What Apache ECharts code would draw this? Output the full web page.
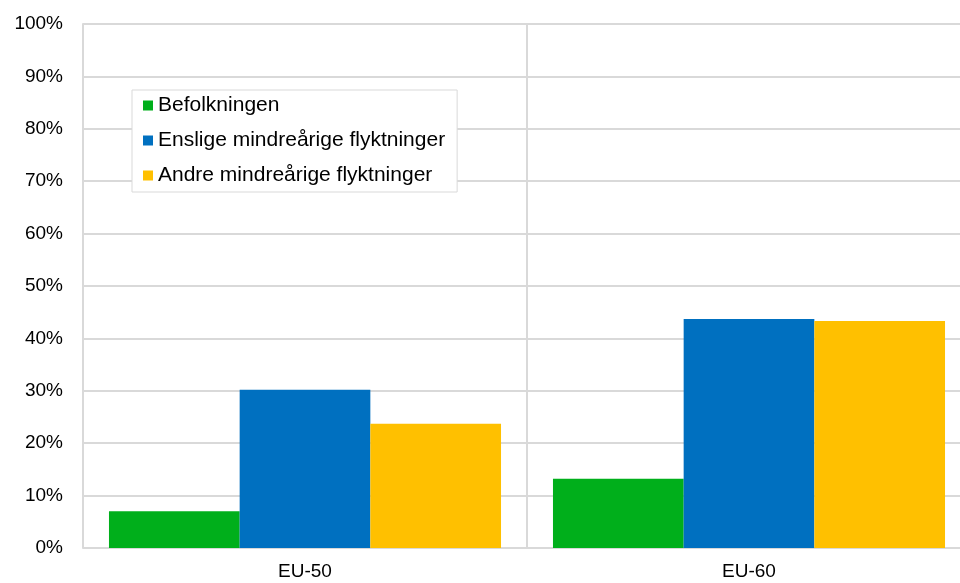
<!DOCTYPE html>
<html>
<head>
<meta charset="utf-8">
<script src="https://cdn.jsdelivr.net/npm/echarts@6/dist/echarts.min.js"></script>
<style>
  html, body { margin: 0; padding: 0; background: #fff; overflow: hidden; }
  #chart { width: 971px; height: 583px; }
</style>
</head>
<body>
<div id="chart"></div>
<script>
var categories = ['EU-50', 'EU-60'];
var seriesNames = ['Befolkningen', 'Enslige mindreårige flyktninger', 'Andre mindreårige flyktninger'];
var befolkningen = [7.0, 13.2];
var enslige = [30.2, 43.7];
var andre = [23.7, 43.3];
var colors = ['#00AF1B', '#0070C0', '#FFC000'];

var myChart = echarts.init(document.getElementById('chart'));

function makeSeries(name, data, color) {
    return {
        name: name,
        type: 'bar',
        data: data,
        barGap: '0%',
        barCategoryGap: '11.7%',
        itemStyle: { color: color },
        emphasis: { disabled: true }
    };
}

// plot area runs past the right edge of the picture, like the original
var option = {
    animation: false,
    textStyle: { fontFamily: 'Liberation Sans, Arial, sans-serif' },
    grid: { left: 83, right: 0, top: 24, bottom: 35 },
    legend: {
        orient: 'vertical',
        left: 132,
        top: 90,
        data: seriesNames,
        icon: 'rect',
        itemWidth: 10,
        itemHeight: 10,
        itemGap: 14,
        padding: [5, 12, 6, 11],
        borderColor: '#d9d9d9',
        borderWidth: 1,
        backgroundColor: '#fff',
        textStyle: { fontSize: 21, color: '#000', lineHeight: 20 }
    },
    xAxis: {
        type: 'category',
        data: categories,
        axisLine: { show: false },
        axisTick: { show: false },
        axisLabel: { fontSize: 19, color: '#000', margin: 14 },
        splitLine: { show: true, lineStyle: { color: '#d9d9d9', width: 2 } }
    },
    yAxis: {
        type: 'value',
        min: 0,
        max: 100,
        interval: 10,
        axisLine: { show: true, lineStyle: { color: '#d9d9d9', width: 2 } },
        axisTick: { show: false },
        axisLabel: { fontSize: 19, color: '#000', margin: 20, formatter: '{value}%' },
        splitLine: { show: true, lineStyle: { color: '#d9d9d9', width: 2 } }
    },
    series: [
        makeSeries(seriesNames[0], befolkningen, colors[0]),
        makeSeries(seriesNames[1], enslige, colors[1]),
        makeSeries(seriesNames[2], andre, colors[2])
    ]
};

myChart.setOption(option, true);
</script>
</body>
</html>
